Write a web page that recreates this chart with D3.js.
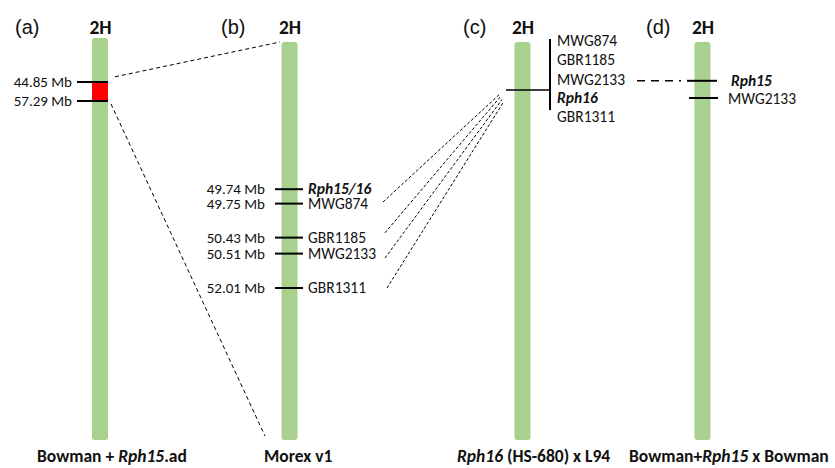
<!DOCTYPE html>
<html><head><meta charset="utf-8">
<script src="https://cdn.jsdelivr.net/npm/d3@7"></script>
<style>
body{margin:0;background:#fff;}
text{font-family:Carlito,Lato,"Liberation Sans",sans-serif;fill:#111;}
</style></head>
<body><svg id="c" width="835" height="468"></svg>
<script>
// ---------- data (positions in schematic map units, 0 = top, 100 = bottom of chromosome) ----------
const chromosomes = ["a","b","c","d"];
const panelLabels = ["(a)","(b)","(c)","(d)"];
const chromName = "2H";
const chromStart = [-0.5, 0.5, 0.5, 0.5];
const chromEnd = [100, 100, 100, 100];
const bottomLabels = [
  [{t:"Bowman + ",i:false},{t:"Rph15",i:true},{t:".ad",i:false}],
  [{t:"Morex v1",i:false}],
  [{t:"Rph16",i:true},{t:" (HS-680) x L94",i:false}],
  [{t:"Bowman+",i:false},{t:"Rph15",i:true},{t:" x Bowman",i:false}]
];
// panel (a)
const aIntervalLabels = ["44.85 Mb","57.29 Mb"];
const aIntervalPos = [10.5, 15.25];
// panel (b)
const bMarkers = ["Rph15/16","MWG874","GBR1185","MWG2133","GBR1311"];
const bPhysical = ["49.74 Mb","49.75 Mb","50.43 Mb","50.51 Mb","52.01 Mb"];
const bPos = [37.3, 40.9, 49.4, 53.4, 62.0];
const bGene = [true,false,false,false,false];
// panel (c)
const cMarkers = ["MWG874","GBR1185","MWG2133","Rph16","GBR1311"];
const cLabelPos = [0.2, 4.9, 9.75, 14.25, 19.0];
const cGene = [false,false,false,true,false];
const cLocusPos = 12.5;
const cBracket = [-0.25, 17.5];
// panel (d)
const dMarkers = ["Rph15","MWG2133"];
const dPos = [10.2, 14.5];
const dGene = [true,false];
// connecting lines b -> c : start (marker positions), end positions on c
const bcStart = [40.5, 48.2, 54.5, 62.0];
const bcEnd = [13.7, 14.3, 14.9, 15.7];

// ---------- layout ----------
const svg = d3.select("#c");
const y = d3.scaleLinear().domain([0,100]).range([40,440]);
const xc = {a:100, b:289.5, c:522.5, d:702.5};
const chromW = 16;
const green = "#a9d18e";
const labelSize = 15.5, mbSize = 15;

// chromosomes
chromosomes.forEach((k,i)=>{
  svg.append("rect")
    .attr("x", xc[k]-chromW/2).attr("y", y(chromStart[i]))
    .attr("width", chromW).attr("height", y(chromEnd[i])-y(chromStart[i]))
    .attr("rx",3).attr("fill",green);
  svg.append("text").attr("x", xc[k]+0.5).attr("y", 34)
    .attr("text-anchor","middle").attr("font-size",19.5).attr("font-weight","bold")
    .text(chromName);
});
const panelX = [15, 221, 463, 646];
panelLabels.forEach((p,i)=>{
  svg.append("text").attr("x", panelX[i]).attr("y", 34)
    .style("font-family","'Liberation Sans',Arial,sans-serif")
    .attr("font-size",20).text(p);
});
// bottom labels
const bottomX = [37, 264, 457, 629];
bottomLabels.forEach((parts,i)=>{
  const t = svg.append("text").attr("x", bottomX[i]).attr("y", 462)
    .attr("font-size",17.5).attr("font-weight","bold");
  parts.forEach(p=>t.append("tspan").attr("font-style", p.i?"italic":"normal").text(p.t));
});

// ---------- panel (a) ----------
svg.append("rect").attr("x", xc.a-chromW/2).attr("y", y(aIntervalPos[0]))
  .attr("width", chromW).attr("height", y(aIntervalPos[1])-y(aIntervalPos[0]))
  .attr("fill","#ff0000");
aIntervalPos.forEach((p,i)=>{
  svg.append("line").attr("x1",77).attr("x2",xc.a+chromW/2).attr("y1",y(p)).attr("y2",y(p))
    .attr("stroke","#000").attr("stroke-width",2);
  svg.append("text").attr("x",72).attr("y",y(p)+5).attr("text-anchor","end")
    .attr("font-size",mbSize).text(aIntervalLabels[i]);
});
// a -> b dashed
svg.append("line").attr("x1",115).attr("y1",y(9.2)).attr("x2",280).attr("y2",y(0.5))
  .attr("stroke","#000").attr("stroke-width",1).attr("stroke-dasharray","4,3");
svg.append("line").attr("x1",111).attr("y1",y(16)).attr("x2",265).attr("y2",y(99))
  .attr("stroke","#000").attr("stroke-width",1).attr("stroke-dasharray","4,3");

// ---------- panel (b) ----------
bPos.forEach((p,i)=>{
  svg.append("line").attr("x1",275).attr("x2",303).attr("y1",y(p)).attr("y2",y(p))
    .attr("stroke","#000").attr("stroke-width",2);
  svg.append("text").attr("x",265).attr("y",y(p)+5).attr("text-anchor","end")
    .attr("font-size",mbSize).text(bPhysical[i]);
  svg.append("text").attr("x",308).attr("y",y(p)+5)
    .attr("font-size",labelSize)
    .attr("font-weight", bGene[i]?"bold":"normal")
    .attr("font-style", bGene[i]?"italic":"normal")
    .text(bMarkers[i]);
});
// b -> c dashed
const bcStartX = [383, 385, 385, 387];
const bcEndX = [499, 500, 502, 503];
bcStart.forEach((p,i)=>{
  svg.append("line").attr("x1",bcStartX[i]).attr("y1",y(p))
    .attr("x2",bcEndX[i]).attr("y2",y(bcEnd[i]))
    .attr("stroke","#000").attr("stroke-width",1).attr("stroke-dasharray","3,2");
});

// ---------- panel (c) ----------
svg.append("line").attr("x1",506).attr("x2",550).attr("y1",y(cLocusPos)).attr("y2",y(cLocusPos))
  .attr("stroke","#000").attr("stroke-width",1.5);
svg.append("line").attr("x1",550).attr("x2",550).attr("y1",y(cBracket[0])).attr("y2",y(cBracket[1]))
  .attr("stroke","#000").attr("stroke-width",2);
cMarkers.forEach((m,i)=>{
  svg.append("text").attr("x",557).attr("y",y(cLabelPos[i])+5.5)
    .attr("font-size",labelSize)
    .attr("font-weight", cGene[i]?"bold":"normal")
    .attr("font-style", cGene[i]?"italic":"normal")
    .text(m);
});
// c -> d dashed
svg.append("line").attr("x1",637).attr("x2",681).attr("y1",y(dPos[0])).attr("y2",y(dPos[0]))
  .attr("stroke","#000").attr("stroke-width",1.5).attr("stroke-dasharray","8,6");

// ---------- panel (d) ----------
const dX1 = [687, 689], dX2 = [717, 718], dLX = [731, 728];
dPos.forEach((p,i)=>{
  svg.append("line").attr("x1",dX1[i]).attr("x2",dX2[i]).attr("y1",y(p)).attr("y2",y(p))
    .attr("stroke","#000").attr("stroke-width",2);
  svg.append("text").attr("x",dLX[i]).attr("y",y(p)+5.5)
    .attr("font-size",labelSize)
    .attr("font-weight", dGene[i]?"bold":"normal")
    .attr("font-style", dGene[i]?"italic":"normal")
    .text(dMarkers[i]);
});
</script></body></html>
